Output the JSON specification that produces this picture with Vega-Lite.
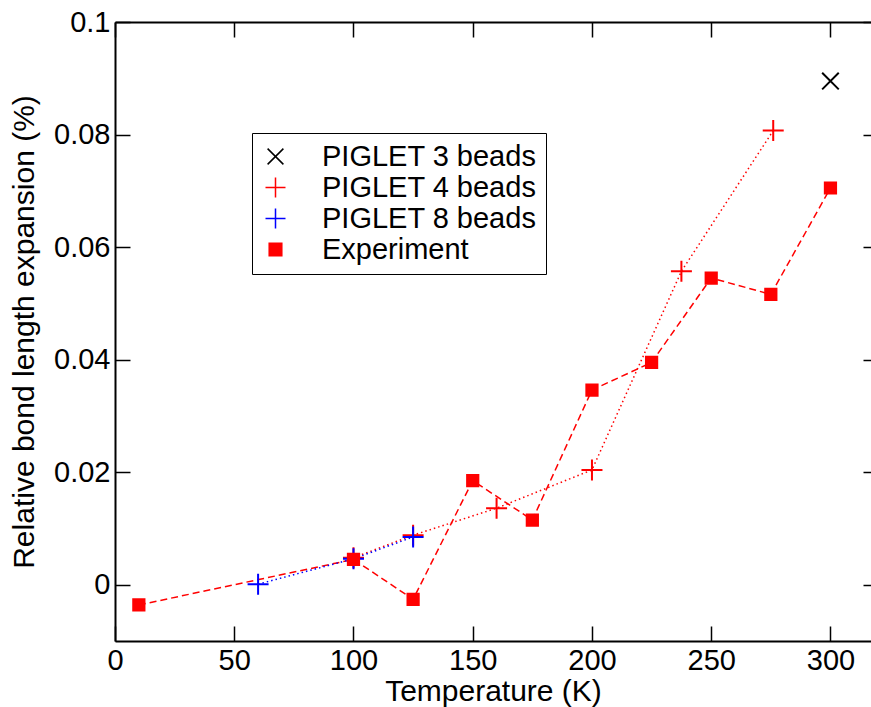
{
  "$schema": "https://vega.github.io/schema/vega-lite/v6.json",
  "width": 756,
  "height": 619,
  "autosize": "none",
  "padding": {"left": 115, "top": 22, "right": 0, "bottom": 66},
  "background": "white",
  "config": {
    "view": {"stroke": null},
    "axis": {
      "labelFont": "Liberation Sans",
      "titleFont": "Liberation Sans",
      "labelFontSize": 29,
      "titleFontSize": 30,
      "titleFontWeight": "normal",
      "labelColor": "#000000",
      "titleColor": "#000000",
      "domainColor": "#000000",
      "domainWidth": 2,
      "tickColor": "#000000",
      "tickWidth": 1.5,
      "tickSize": -15,
      "grid": false,
      "labelOverlap": false,
      "labelFlush": false
    }
  },
  "data": {
    "values": [
      {"series": "PIGLET 3 beads", "T": 300, "value": 0.0895},
      {"series": "PIGLET 4 beads", "T": 100, "value": 0.0048},
      {"series": "PIGLET 4 beads", "T": 125, "value": 0.0088},
      {"series": "PIGLET 4 beads", "T": 160, "value": 0.0136},
      {"series": "PIGLET 4 beads", "T": 200, "value": 0.0204},
      {"series": "PIGLET 4 beads", "T": 237.5, "value": 0.0557},
      {"series": "PIGLET 4 beads", "T": 276, "value": 0.0807},
      {"series": "PIGLET 8 beads", "T": 60, "value": 0.0001},
      {"series": "PIGLET 8 beads", "T": 100, "value": 0.0046},
      {"series": "PIGLET 8 beads", "T": 125, "value": 0.0085},
      {"series": "Experiment", "T": 10, "value": -0.0036},
      {"series": "Experiment", "T": 100, "value": 0.0045},
      {"series": "Experiment", "T": 125, "value": -0.0026},
      {"series": "Experiment", "T": 150, "value": 0.0185},
      {"series": "Experiment", "T": 175, "value": 0.0115},
      {"series": "Experiment", "T": 200, "value": 0.0346},
      {"series": "Experiment", "T": 225, "value": 0.0395},
      {"series": "Experiment", "T": 250, "value": 0.0545},
      {"series": "Experiment", "T": 275, "value": 0.0516},
      {"series": "Experiment", "T": 300, "value": 0.0705}
    ]
  },
  "layer": [
    {
      "transform": [{"filter": "datum.series === 'Experiment'"}],
      "mark": {"type": "line", "strokeWidth": 1.5, "strokeDash": [7, 4], "clip": true},
      "encoding": {
        "x": {
          "field": "T", "type": "quantitative",
          "scale": {"domain": [0, 317], "nice": false, "zero": false},
          "axis": {
            "orient": "bottom",
            "title": "Temperature (K)",
            "values": [0, 50, 100, 150, 200, 250, 300],
            "format": "d",
            "labelPadding": 20,
            "titleBaseline": "alphabetic",
            "titleY": 59.5
          }
        },
        "y": {
          "field": "value", "type": "quantitative",
          "scale": {"domain": [-0.01, 0.1], "nice": false, "zero": false},
          "axis": {
            "orient": "left",
            "title": "Relative bond length expansion (%)",
            "values": [0, 0.02, 0.04, 0.06, 0.08, 0.1],
            "labelExpr": "format(datum.value, '~g')",
            "labelPadding": 20,
            "titleBaseline": "alphabetic",
            "titleX": -82
          }
        },
        "stroke": {
          "field": "series", "type": "nominal",
          "scale": {"domain": ["PIGLET 4 beads", "PIGLET 8 beads", "Experiment"], "range": ["#ff0000", "#0000ff", "#ff0000"]},
          "legend": null
        }
      }
    },
    {
      "transform": [{"filter": "datum.series === 'PIGLET 4 beads' || datum.series === 'PIGLET 8 beads'"}],
      "mark": {"type": "line", "strokeWidth": 1.5, "strokeDash": [1.5, 3], "clip": true},
      "encoding": {
        "x": {
          "field": "T", "type": "quantitative",
          "scale": {"domain": [0, 317], "nice": false, "zero": false},
          "axis": {
            "orient": "top",
            "title": null,
            "values": [0, 50, 100, 150, 200, 250, 300],
            "labels": false
          }
        },
        "y": {
          "field": "value", "type": "quantitative",
          "scale": {"domain": [-0.01, 0.1], "nice": false, "zero": false},
          "axis": {
            "orient": "right",
            "title": null,
            "offset": 7,
            "values": [0, 0.02, 0.04, 0.06, 0.08, 0.1],
            "labels": false
          }
        },
        "stroke": {
          "field": "series", "type": "nominal",
          "scale": {"domain": ["PIGLET 4 beads", "PIGLET 8 beads", "Experiment"], "range": ["#ff0000", "#0000ff", "#ff0000"]},
          "legend": null
        }
      }
    },
    {
      "transform": [{"filter": "datum.series === 'PIGLET 3 beads'"}],
      "mark": {"type": "point", "filled": false, "size": 441, "strokeWidth": 2, "opacity": 1, "clip": true},
      "encoding": {
        "x": {"field": "T", "type": "quantitative", "scale": {"domain": [0, 317], "nice": false, "zero": false}, "axis": null},
        "y": {"field": "value", "type": "quantitative", "scale": {"domain": [-0.01, 0.1], "nice": false, "zero": false}, "axis": null},
        "color": {
          "field": "series", "type": "nominal",
          "scale": {"domain": ["PIGLET 3 beads", "PIGLET 4 beads", "PIGLET 8 beads", "Experiment"], "range": ["#000000", "#ff0000", "#0000ff", "#ff0000"]},
          "legend": {
            "orient": "none",
            "legendX": 137,
            "legendY": 111,
            "title": null,
            "symbolSize": 400,
            "labelOffset": 32,
            "padding": 9,
            "rowPadding": 1,
            "strokeColor": "#000000",
            "fillColor": "#ffffff",
            "labelFont": "Liberation Sans",
            "labelFontSize": 29,
            "labelColor": "#000000",
            "labelLimit": 500
          }
        },
        "shape": {
          "field": "series", "type": "nominal",
          "scale": {"domain": ["PIGLET 3 beads", "PIGLET 4 beads", "PIGLET 8 beads", "Experiment"], "range": ["M-0.79,-0.79L0.79,0.79M-0.79,0.79L0.79,-0.79", "M-1,0H1M0,-1V1", "M-1,0H1M0,-1V1", "M-0.63,-0.63H0.63V0.63H-0.63ZM-0.63,-0.42H0.63M-0.63,-0.21H0.63M-0.63,0H0.63M-0.63,0.21H0.63M-0.63,0.42H0.63"]}
        }
      }
    },
    {
      "transform": [{"filter": "datum.series === 'PIGLET 4 beads' || datum.series === 'PIGLET 8 beads'"}],
      "mark": {"type": "point", "filled": false, "size": 441, "strokeWidth": 2, "opacity": 1, "clip": true},
      "encoding": {
        "x": {"field": "T", "type": "quantitative", "scale": {"domain": [0, 317], "nice": false, "zero": false}, "axis": null},
        "y": {"field": "value", "type": "quantitative", "scale": {"domain": [-0.01, 0.1], "nice": false, "zero": false}, "axis": null},
        "color": {
          "field": "series", "type": "nominal",
          "scale": {"domain": ["PIGLET 3 beads", "PIGLET 4 beads", "PIGLET 8 beads", "Experiment"], "range": ["#000000", "#ff0000", "#0000ff", "#ff0000"]}
        },
        "shape": {
          "field": "series", "type": "nominal",
          "scale": {"domain": ["PIGLET 3 beads", "PIGLET 4 beads", "PIGLET 8 beads", "Experiment"], "range": ["M-0.79,-0.79L0.79,0.79M-0.79,0.79L0.79,-0.79", "M-1,0H1M0,-1V1", "M-1,0H1M0,-1V1", "M-0.63,-0.63H0.63V0.63H-0.63ZM-0.63,-0.42H0.63M-0.63,-0.21H0.63M-0.63,0H0.63M-0.63,0.21H0.63M-0.63,0.42H0.63"]}
        }
      }
    },
    {
      "transform": [{"filter": "datum.series === 'Experiment'"}],
      "mark": {"type": "point", "filled": true, "size": 441, "strokeWidth": 0, "opacity": 1, "clip": true},
      "encoding": {
        "x": {"field": "T", "type": "quantitative", "scale": {"domain": [0, 317], "nice": false, "zero": false}, "axis": null},
        "y": {"field": "value", "type": "quantitative", "scale": {"domain": [-0.01, 0.1], "nice": false, "zero": false}, "axis": null},
        "color": {
          "field": "series", "type": "nominal",
          "scale": {"domain": ["PIGLET 3 beads", "PIGLET 4 beads", "PIGLET 8 beads", "Experiment"], "range": ["#000000", "#ff0000", "#0000ff", "#ff0000"]}
        },
        "shape": {
          "field": "series", "type": "nominal",
          "scale": {"domain": ["PIGLET 3 beads", "PIGLET 4 beads", "PIGLET 8 beads", "Experiment"], "range": ["M-0.79,-0.79L0.79,0.79M-0.79,0.79L0.79,-0.79", "M-1,0H1M0,-1V1", "M-1,0H1M0,-1V1", "M-0.63,-0.63H0.63V0.63H-0.63ZM-0.63,-0.42H0.63M-0.63,-0.21H0.63M-0.63,0H0.63M-0.63,0.21H0.63M-0.63,0.42H0.63"]}
        }
      }
    }
  ],
  "resolve": {"axis": {"x": "independent", "y": "independent"}}
}
